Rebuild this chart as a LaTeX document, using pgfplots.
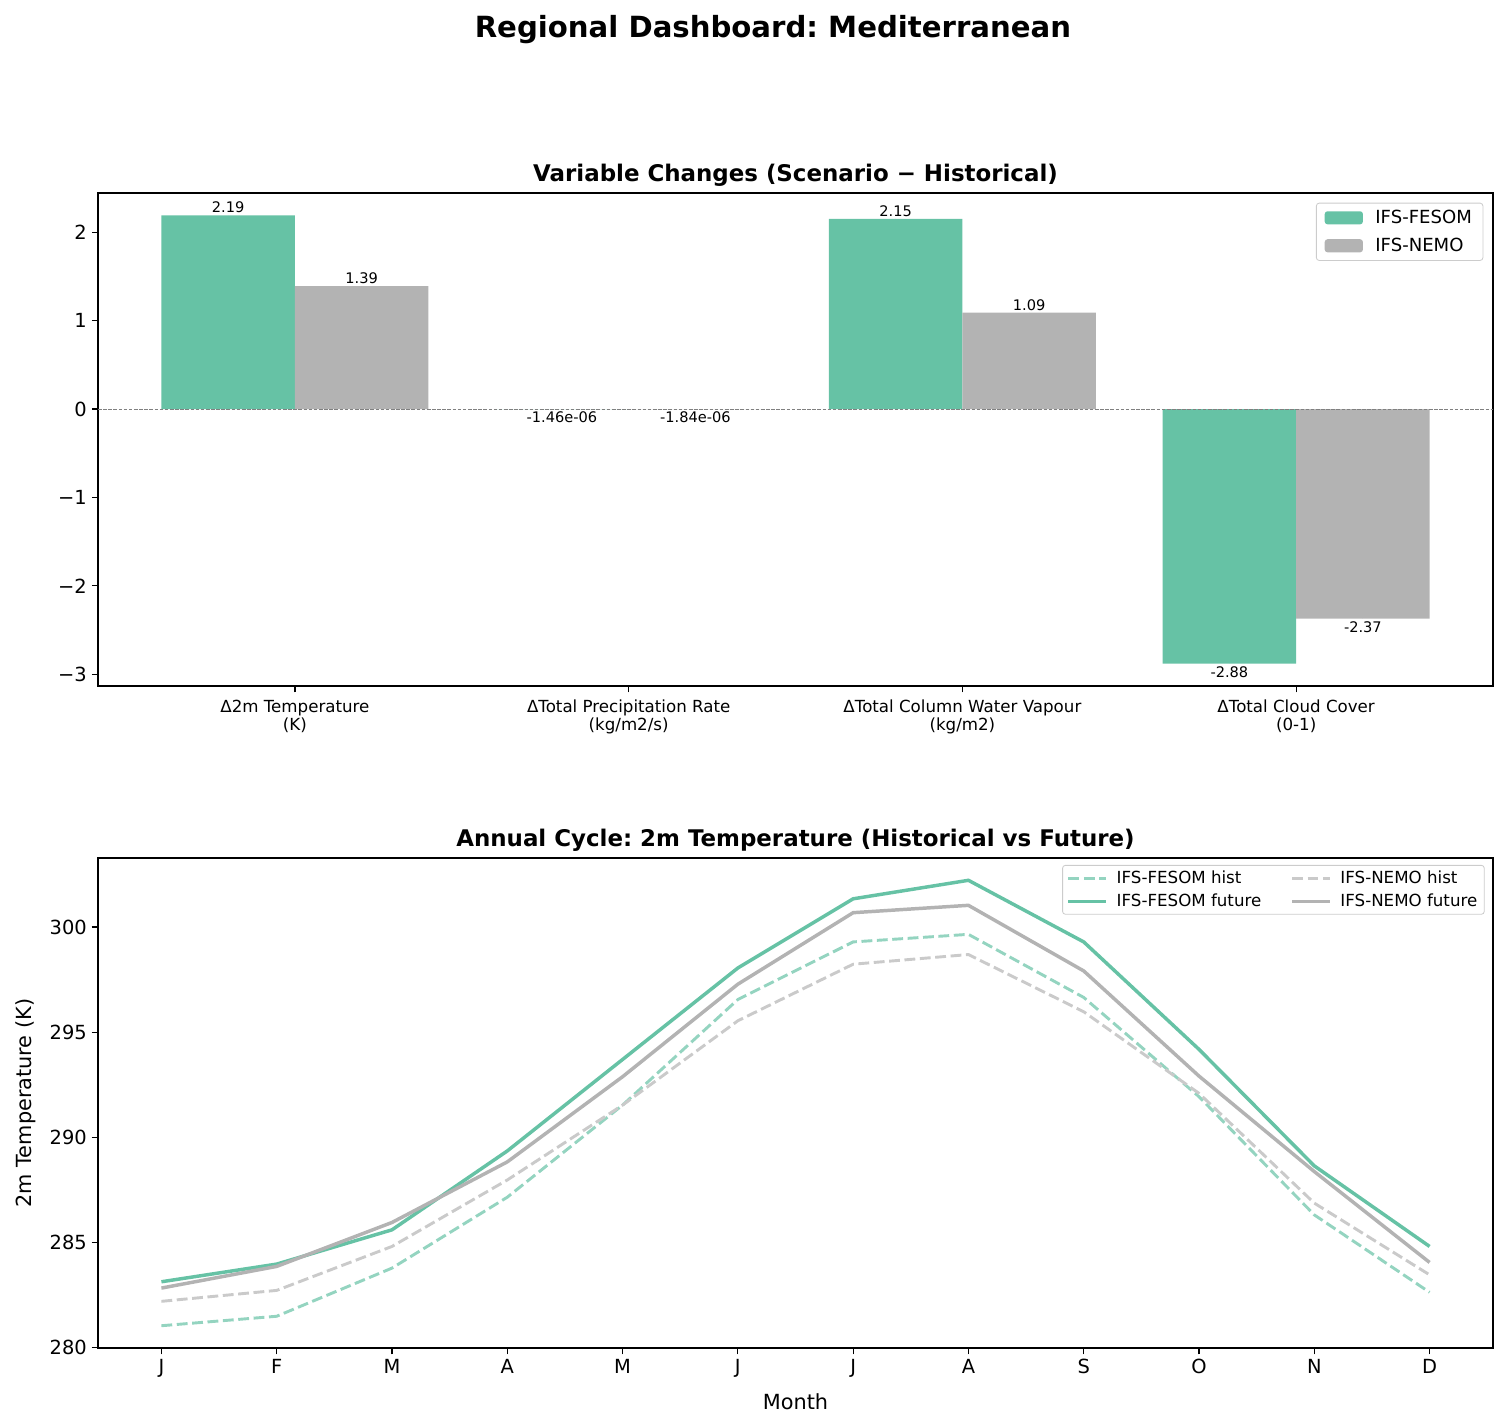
\documentclass[border=0pt]{standalone}
\usepackage{pgfplots}
\pgfplotsset{compat=1.18}
\usepackage{fontspec}
\setmainfont{DejaVu Sans}
\frenchspacing
\definecolor{fesom}{HTML}{66C2A5}
\definecolor{nemo}{HTML}{B3B3B3}
\definecolor{legframe}{HTML}{CCCCCC}

\pgfplotsset{
  dash/.style={line width=2.1bp, dash pattern=on 7.8bp off 3.3bp},
  common/.style={
    scale only axis, width=1004.4bp,
    axis line style={line width=0.9bp},
    tick align=outside, tick pos=left, major tick length=4.5bp,
    every tick/.style={black, line width=0.9bp},
    /pgf/number format/assume math mode=true,
    ticklabel style={font=\fontsize{14bp}{16bp}\selectfont},
    title style={font=\bfseries\fontsize{16.5bp}{19bp}\selectfont, at={(0.5,1)}, anchor=base, yshift=2.4bp},
    legend cell align=left,
  },
}

\begin{document}
\begin{tikzpicture}
\useasboundingbox (0,0) rectangle (1085.04bp,-1027.44bp);
\node[anchor=base, font=\bfseries\fontsize{21bp}{25bp}\selectfont] at (556.5bp,-27.1bp) {Regional Dashboard: Mediterranean};

% bar chart of the changes
\begin{axis}[common,
  at={(70.56bp,-493.92bp)}, anchor=south west, height=354.96bp,
  xmin=-0.59, xmax=3.59, ymin=-3.1335, ymax=2.4435,
  xtick={0,1,2,3},
  xticklabels={{Δ2m Temperature\\(K)}, {ΔTotal Precipitation Rate\\(kg/m2/s)}, {ΔTotal Column Water Vapour\\(kg/m2)}, {ΔTotal Cloud Cover\\(0-1)}},
  xticklabel style={align=center, font=\fontsize{12bp}{13bp}\selectfont, yshift=-2bp},
  ytick={-3,-2,-1,0,1,2}, yticklabels={−3,−2,−1,0,1,2},
  title={Variable Changes (Scenario − Historical)},
  legend style={at={(1,1)}, anchor=north east, xshift=-7bp, yshift=-7bp, draw=legframe, line width=0.6bp, rounded corners=2bp,
    font=\fontsize{13bp}{15bp}\selectfont, row sep=5bp, inner xsep=6bp, inner ysep=3bp,
    /tikz/every odd column/.append style={column sep=7bp}},
  legend image code/.code={\fill[#1] (0bp,-4.7bp) rectangle (27.5bp,4.7bp);},
]
\addplot[ybar, bar width=0.4, bar shift=0pt, fill=fesom, draw=none] coordinates {(-0.2,2.19) (0.8,-1.46e-06) (1.8,2.15) (2.8,-2.88)};
\addlegendentry{IFS-FESOM}
\addplot[ybar, bar width=0.4, bar shift=0pt, fill=nemo, draw=none] coordinates {(0.2,1.39) (1.2,-1.84e-06) (2.2,1.09) (3.2,-2.37)};
\addlegendentry{IFS-NEMO}
\addplot[forget plot, gray, line width=0.6bp, dash pattern=on 2.6bp off 1.1bp] coordinates {(-0.59,0) (3.59,0)};
% value labels
\addplot[forget plot, only marks, mark=*, mark size=0pt, mark options={draw=none, fill=none},
  point meta=explicit symbolic, nodes near coords,
  every node near coord/.append style={anchor=south, inner sep=1.5bp, font=\fontsize{10.5bp}{12bp}\selectfont}]
  coordinates {(-0.2,2.19)[2.19] (0.2,1.39)[1.39] (1.8,2.15)[2.15] (2.2,1.09)[1.09]};
\addplot[forget plot, only marks, mark=*, mark size=0pt, mark options={draw=none, fill=none},
  point meta=explicit symbolic, nodes near coords,
  every node near coord/.append style={anchor=north, inner sep=2bp, font=\fontsize{10.5bp}{12bp}\selectfont}]
  coordinates {(0.8,-1.46e-06)[-1.46e-06] (1.2,-1.84e-06)[-1.84e-06] (2.8,-2.88)[-2.88] (3.2,-2.37)[-2.37]};
\end{axis}

% annual cycle
\begin{axis}[common,
  at={(70.56bp,-970.56bp)}, anchor=south west, height=352.8bp,
  xmin=-0.55, xmax=11.55, ymin=279.98, ymax=303.28,
  xtick={0,...,11}, xticklabels={J,F,M,A,M,J,J,A,S,O,N,D},
  ytick={280,285,290,295,300},
  xlabel={Month}, ylabel={2m Temperature (K)},
  label style={font=\fontsize{15bp}{17bp}\selectfont},
  xlabel style={at={(0.5,-0.1259)}, anchor=base},
  ylabel style={at={(-0.0475,0.5)}, anchor=base},
  title={Annual Cycle: 2m Temperature (Historical vs Future)},
  legend columns=2, transpose legend,
  legend style={at={(1,1)}, anchor=north east, xshift=-6bp, yshift=-5bp, draw=legframe, line width=0.6bp, rounded corners=2bp,
    font=\fontsize{12bp}{14bp}\selectfont, row sep=2bp, inner xsep=3bp, inner ysep=2bp,
    /tikz/every odd column/.append style={column sep=4.5bp},
    /tikz/every even column/.append style={column sep=19bp}},
  legend image code/.code={\draw[#1] (0bp,0bp) -- (27bp,0bp);},
]
\addplot[fesom!70, dash] coordinates {(0,281.04) (1,281.49) (2,283.78) (3,287.15) (4,291.53) (5,296.55) (6,299.29) (7,299.65) (8,296.65) (9,291.93) (10,286.31) (11,282.63)};
\addlegendentry{IFS-FESOM hist}
\addplot[fesom, line width=2.5bp] coordinates {(0,283.13) (1,283.97) (2,285.60) (3,289.35) (4,293.70) (5,298.05) (6,301.34) (7,302.22) (8,299.29) (9,294.18) (10,288.64) (11,284.81)};
\addlegendentry{IFS-FESOM future}
\addplot[nemo!70, dash] coordinates {(0,282.20) (1,282.72) (2,284.81) (3,287.97) (4,291.53) (5,295.54) (6,298.23) (7,298.69) (8,295.97) (9,292.09) (10,286.87) (11,283.46)};
\addlegendentry{IFS-NEMO hist}
\addplot[nemo, line width=2.5bp] coordinates {(0,282.83) (1,283.86) (2,285.95) (3,288.83) (4,292.88) (5,297.28) (6,300.68) (7,301.03) (8,297.91) (9,292.91) (10,288.37) (11,284.05)};
\addlegendentry{IFS-NEMO future}
\end{axis}
\end{tikzpicture}
\end{document}
